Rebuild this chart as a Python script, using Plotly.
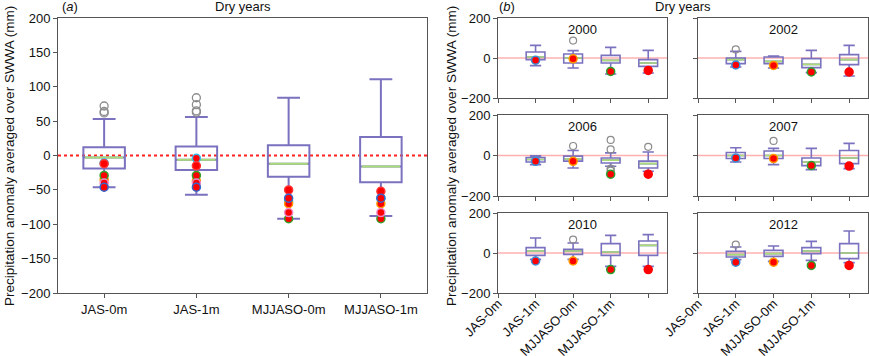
import plotly.graph_objects as go

# ---------------- data ----------------
SEASONS = ["JAS-0m", "JAS-1m", "MJJASO-0m", "MJJASO-1m"]
YEARS = ["2000", "2002", "2006", "2007", "2010", "2012"]

# Panel (a): all dry years pooled
A_UPPER = [53, 56, 84, 111]
A_Q3 = [12, 13, 15, 27]
A_MEDIAN = [-3, -6, -12, -16]
A_Q1 = [-19, -21, -31, -39]
A_LOWER = [-46, -57, -92, -88]
A_OUTLIERS = [[72, 64, 62], [84, 74, 65, 63], [], []]

# Observed anomalies per year (order of YEARS), per season
OBS_JAS0 = [-11, -35, -29, -12, -40, -46]
OBS_JAS1 = [-4, -37, -29, -15, -40, -46]
OBS_MJJASO0 = [-67, -70, -92, -50, -83, -62]
OBS_MJJASO1 = [-62, -70, -92, -52, -83, -62]

# Panel (b): per year, values per season
B_UPPER = [[63, 37, 53, 38], [33, 10, 38, 63], [-2, 25, 13, 17],
           [38, 35, 35, 60], [75, 50, 88, 92], [30, 35, 58, 110]]
B_Q3 = [[30, 20, 13, -8], [0, 5, -3, 17], [-10, -3, -12, -28],
        [15, 22, -12, 25], [27, 18, 47, 60], [8, 13, 27, 47]]
B_MEDIAN = [[5, 0, -12, -25], [-8, -17, -32, -8], [-20, -17, -23, -40],
            [0, 0, -32, -12], [10, 10, 5, 38], [-8, -3, 10, 0]]
B_Q1 = [[-8, -25, -25, -42], [-28, -28, -48, -33], [-32, -28, -37, -62],
        [-15, -15, -50, -40], [-12, -7, -12, -12], [-20, -17, -3, -28]]
B_LOWER = [[-38, -50, -80, -75], [-45, -50, -73, -90], [-45, -62, -53, -78],
           [-32, -45, -70, -65], [-32, -32, -67, -67], [-33, -42, -37, -48]]
B_OUTLIERS = [
    [[], [87], [], []],
    [[43], [], [], []],
    [[], [47], [77, 30, -65, -75], [43]],
    [[], [72], [], []],
    [[], [67], [], []],
    [[42], [], [], []],
]

# ---------------- style ----------------
BOX_C = "#7a72bf"
MED_C = "#a9dc78"
OUT_C = "#8c8c8c"
AX_C = "#555555"
FONT = "Liberation Sans, Arial, sans-serif"
SEASON_RING = ["#3a8fd9", "#ff9900", "#2ca02c", "#ff0000"]
YEAR_RING = ["#33bbee", "#ff9900", "#33a02c", "#ff3333", "#ee88cc", "#3366cc"]

W, H = 869, 356


def px_x(a, b):
    return [a / W, b / W]


def px_y(top, bottom):
    return [1 - bottom / H, 1 - top / H]


fig = go.Figure()


def add_boxes(xa, ya, pos, q1, med, q3, lo, up, width, ww, lw):
    fig.add_trace(go.Box(
        x=pos, q1=q1, median=med, q3=q3, lowerfence=lo, upperfence=up,
        width=width, whiskerwidth=ww, boxpoints=False,
        line=dict(color=BOX_C, width=lw), fillcolor="rgba(0,0,0,0)",
        xaxis=xa, yaxis=ya, showlegend=False, hoverinfo="skip"))
    # green median line
    fig.add_trace(go.Box(
        x=pos, q1=med, median=med, q3=med, lowerfence=med, upperfence=med,
        width=width * 0.92, whiskerwidth=0, boxpoints=False,
        line=dict(color=MED_C, width=lw), fillcolor="rgba(0,0,0,0)",
        xaxis=xa, yaxis=ya, showlegend=False, hoverinfo="skip"))


obs_all = [OBS_JAS0, OBS_JAS1, OBS_MJJASO0, OBS_MJJASO1]

# ---- Panel (a) ----
pos_a = list(range(len(SEASONS)))
add_boxes("x", "y", pos_a, A_Q1, A_MEDIAN, A_Q3, A_LOWER, A_UPPER, 0.45, 0.55, 2)
for i, outs in enumerate(A_OUTLIERS):
    if outs:
        fig.add_trace(go.Scatter(
            x=[pos_a[i]] * len(outs), y=outs, mode="markers",
            marker=dict(symbol="circle-open", size=8, color=OUT_C, line=dict(width=1.3)),
            xaxis="x", yaxis="y", showlegend=False, hoverinfo="skip"))
for i, obs in enumerate(obs_all):
    fig.add_trace(go.Scatter(
        x=[pos_a[i]] * len(obs), y=obs, mode="markers",
        marker=dict(symbol="circle", size=8, color="#ff0000",
                    line=dict(width=1.5, color=YEAR_RING)),
        xaxis="x", yaxis="y", showlegend=False, hoverinfo="skip"))

# ---- Panel (b) ----
pos_b = [1, 2, 3, 4]
col_x = [px_x(498, 667), px_x(698, 868)]
row_y = [px_y(18, 98), px_y(115, 196), px_y(213, 293)]

for k, yr in enumerate(YEARS):
    n = k + 2
    xa, ya = f"x{n}", f"y{n}"
    add_boxes(xa, ya, pos_b, B_Q1[k], B_MEDIAN[k], B_Q3[k], B_LOWER[k], B_UPPER[k],
              0.5, 0.6, 1.6)
    for i, outs in enumerate(B_OUTLIERS[k]):
        if outs:
            fig.add_trace(go.Scatter(
                x=[pos_b[i]] * len(outs), y=outs, mode="markers",
                marker=dict(symbol="circle-open", size=7, color=OUT_C, line=dict(width=1.2)),
                xaxis=xa, yaxis=ya, showlegend=False, hoverinfo="skip"))
    fig.add_trace(go.Scatter(
        x=pos_b, y=[obs[k] for obs in obs_all], mode="markers",
        marker=dict(symbol="circle", size=8, color="#ff0000",
                    line=dict(width=1.5, color=SEASON_RING)),
        xaxis=xa, yaxis=ya, showlegend=False, hoverinfo="skip"))

# ---------------- layout ----------------
axis_common = dict(showline=True, mirror=True, linecolor=AX_C, linewidth=1,
                   ticks="outside", ticklen=4, tickcolor=AX_C, showgrid=False,
                   zeroline=False, automargin=False,
                   tickfont=dict(family=FONT, size=13, color="#111"))

layout = dict(
    width=W, height=H, margin=dict(l=0, r=0, t=0, b=0),
    paper_bgcolor="white", plot_bgcolor="white", boxmode="overlay",
    font=dict(family=FONT, size=13, color="#111"),
    xaxis=dict(axis_common, domain=px_x(58, 427), range=[-0.5, 3.5],
               tickvals=pos_a, ticktext=SEASONS, anchor="y"),
    yaxis=dict(axis_common, domain=px_y(18, 293), range=[-200, 200],
               tickvals=[-200, -150, -100, -50, 0, 50, 100, 150, 200], anchor="x"),
)

shapes = [dict(type="line", xref="x domain", yref="y", x0=0, x1=1, y0=0, y1=0,
               line=dict(color="#ff2020", width=2, dash="dot"), layer="below")]
annotations = [
    dict(text="(<i>a</i>)", x=60 / W, y=1 - 7 / H, xref="paper", yref="paper",
         xanchor="left", yanchor="middle", showarrow=False, font=dict(size=13)),
    dict(text="Dry years", x=243 / W, y=1 - 7 / H, xref="paper", yref="paper",
         xanchor="center", yanchor="middle", showarrow=False, font=dict(size=13)),
    dict(text="(<i>b</i>)", x=497 / W, y=1 - 7 / H, xref="paper", yref="paper",
         xanchor="left", yanchor="middle", showarrow=False, font=dict(size=13)),
    dict(text="Dry years", x=683 / W, y=1 - 7 / H, xref="paper", yref="paper",
         xanchor="center", yanchor="middle", showarrow=False, font=dict(size=13)),
    dict(text="Precipitation anomaly averaged over SWWA (mm)", x=9 / W, y=1 - 156 / H,
         xref="paper", yref="paper", textangle=-90, xanchor="center", yanchor="middle",
         showarrow=False, font=dict(size=13.5)),
    dict(text="Precipitation anomaly averaged over SWWA (mm)", x=451 / W, y=1 - 156 / H,
         xref="paper", yref="paper", textangle=-90, xanchor="center", yanchor="middle",
         showarrow=False, font=dict(size=13.5)),
]

for k, yr in enumerate(YEARS):
    n = k + 2
    r, c = divmod(k, 2)
    bottom_row = r == 2
    layout[f"xaxis{n}"] = dict(
        axis_common, domain=col_x[c], range=[0, 4.5], anchor=f"y{n}",
        tickvals=[0, 1, 2, 3, 4],
        ticktext=SEASONS + [""] if bottom_row else [""] * 5,
        tickangle=-45, showticklabels=bottom_row, ticklabelstandoff=-7)
    layout[f"yaxis{n}"] = dict(
        axis_common, domain=row_y[r], range=[-200, 200], anchor=f"x{n}",
        tickvals=[-200, 0, 200], showticklabels=(c == 0))
    shapes.append(dict(type="line", xref=f"x{n} domain", yref=f"y{n}", x0=0, x1=1,
                       y0=0, y1=0, line=dict(color="#ffb0b0", width=1.5), layer="below"))
    annotations.append(dict(text=yr, x=0.5, y=0.97, xref=f"x{n} domain", yref=f"y{n} domain",
                            xanchor="center", yanchor="top", showarrow=False,
                            font=dict(size=13)))

layout["shapes"] = shapes
layout["annotations"] = annotations
fig.update_layout(**layout)

fig.write_html("out.html", config={"displayModeBar": False},
               post_script="document.body.style.margin='0';document.body.style.overflow='hidden';")
